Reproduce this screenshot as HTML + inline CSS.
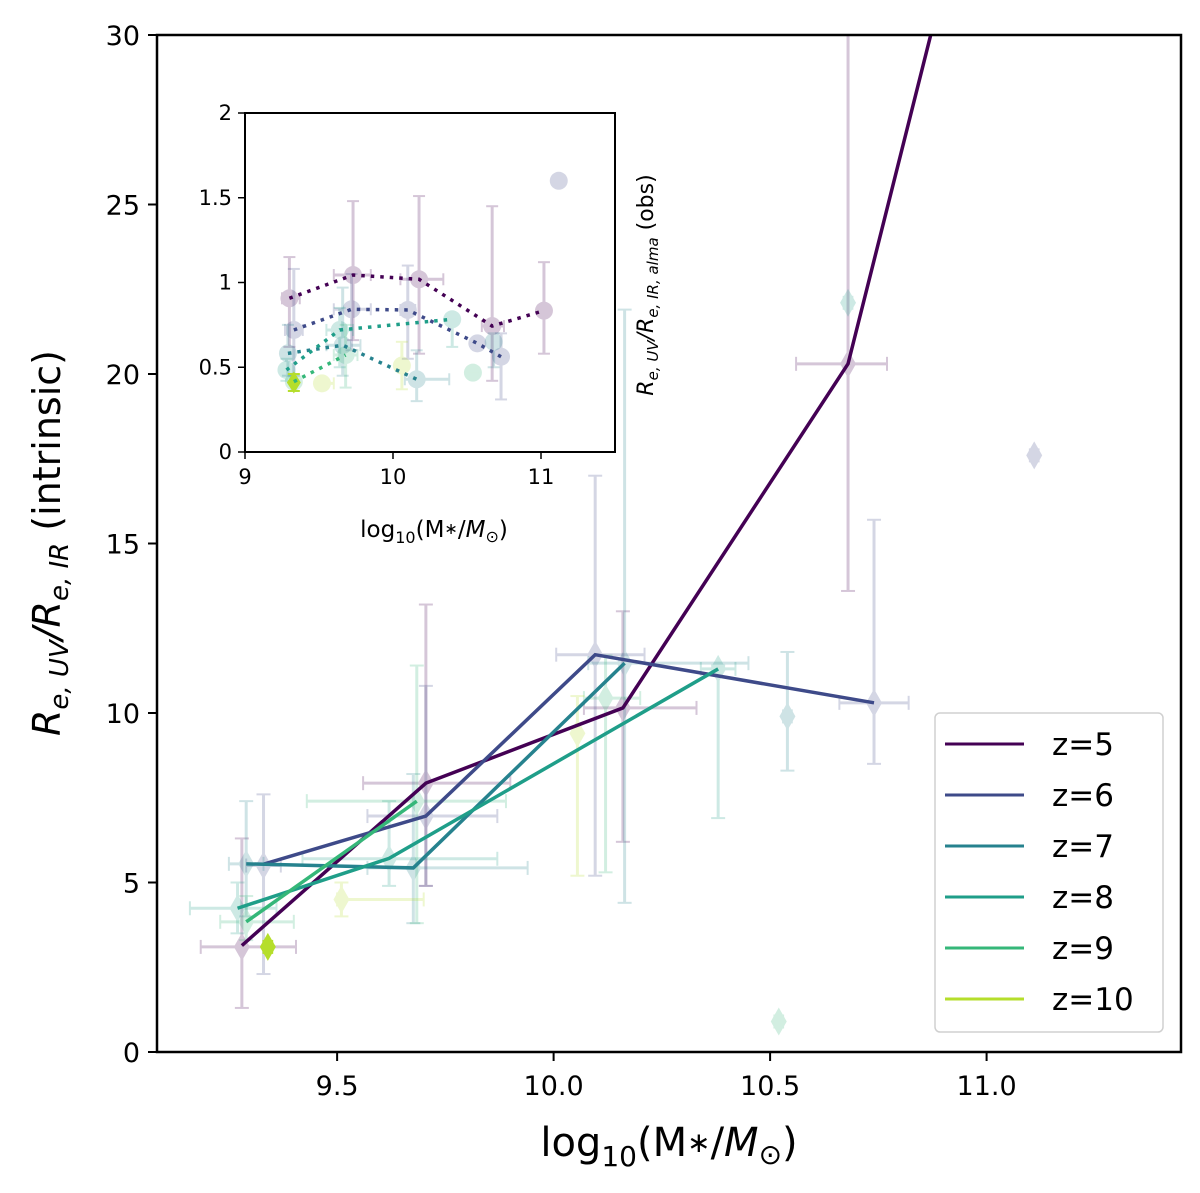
<!DOCTYPE html>
<html><head><meta charset="utf-8">
<style>
html,body{margin:0;padding:0;background:#fff;}
svg{display:block;font-family:"DejaVu Sans","Liberation Sans",sans-serif;}
</style></head>
<body>
<svg id="chart" width="1200" height="1193" viewBox="0 0 1200 1193" xmlns="http://www.w3.org/2000/svg"></svg>
<script>
// ---- data ----
const seriesNames = ["z=5","z=6","z=7","z=8","z=9","z=10"];
const seriesColors = ["#440154","#3e4a89","#26828e","#1f9e89","#35b779","#b5de2b"];
// main lines (log mass, ratio)
const lineZ5 = [[9.28,3.14],[9.705,7.93],[10.16,10.15],[10.68,20.3],[10.93,33.0]];
const lineZ6 = [[9.33,5.54],[9.705,6.96],[10.096,11.72],[10.74,10.3]];
const lineZ7 = [[9.29,5.55],[9.676,5.43],[10.164,11.47]];
const lineZ8 = [[9.27,4.24],[9.62,5.71],[10.38,11.3]];
const lineZ9 = [[9.29,3.84],[9.684,7.4]];
const lineZ10 = [];
// error-bar points: [series, x, y, xlo, xhi, ylo, yhi]
const mainPoints = [
 [0,9.28,3.1,9.185,9.405,1.3,6.3],[0,9.705,7.93,9.56,9.90,4.9,13.2],[0,10.16,10.15,10.07,10.33,6.2,13.0],[0,10.68,20.3,10.56,10.77,13.6,31],
 [1,9.33,5.5,9.29,9.37,2.3,7.6],[1,9.705,6.96,9.57,9.87,4.9,10.8],[1,10.096,11.72,10.006,10.21,5.2,17],[1,10.74,10.3,10.66,10.82,8.5,15.7],[1,11.11,17.6,11.1,11.12,17.6,17.6],
 [2,9.29,5.55,9.25,9.33,4.0,7.4],[2,9.676,5.43,9.57,9.94,3.8,8.2],[2,10.164,11.47,10.08,10.45,4.4,21.9],[2,10.54,9.9,10.53,10.55,8.3,11.8],
 [3,9.27,4.24,9.16,9.36,3.5,5.0],[3,9.62,5.7,9.42,9.87,4.9,7.4],[3,10.38,11.3,10.34,10.42,6.9,11.4],[3,10.68,22.1,10.67,10.69,22.1,22.1],
 [4,9.29,3.84,9.23,9.40,3.3,4.6],[4,9.684,7.4,9.43,9.89,3.8,11.4],[4,10.12,10.44,10.07,10.2,5.3,11.7],[4,10.52,0.9,10.51,10.53,0.9,0.9],
 [5,9.34,3.1,9.33,9.35,3.1,3.1],[5,9.51,4.5,9.50,9.70,4.0,5.0],[5,10.055,9.4,10.05,10.06,5.2,10.5]
];
// inset dotted lines
const insetZ5 = [[9.30,0.907],[9.73,1.044],[10.176,1.019],[10.67,0.743],[11.02,0.834]];
const insetZ6 = [[9.33,0.72],[9.72,0.842],[10.10,0.838],[10.57,0.641],[10.73,0.562]];
const insetZ7 = [[9.29,0.582],[9.66,0.63],[10.16,0.429]];
const insetZ8 = [[9.28,0.484],[9.64,0.72],[10.40,0.783]];
const insetZ9 = [[9.33,0.415],[9.68,0.572]];
// inset points: [series,x,y,xlo,xhi,ylo,yhi]
const insetPoints = [
 [0,9.30,0.907,9.25,9.37,0.62,1.15],[0,9.73,1.044,9.6,9.85,0.66,1.48],[0,10.176,1.019,10.05,10.34,0.58,1.51],[0,10.67,0.743,10.6,10.75,0.42,1.45],[0,11.02,0.834,11.0,11.04,0.58,1.12],
 [1,9.33,0.72,9.27,9.39,0.45,1.08],[1,9.72,0.842,9.6,9.85,0.6,1.05],[1,10.10,0.838,10.05,10.15,0.55,1.1],[1,10.57,0.641,10.55,10.6,0.64,0.64],[1,10.73,0.562,10.7,10.76,0.31,0.7],[1,11.12,1.6,11.1,11.14,1.6,1.6],
 [2,9.29,0.582,9.27,9.31,0.45,0.75],[2,9.66,0.63,9.55,9.78,0.45,0.97],[2,10.16,0.429,10.08,10.38,0.3,0.6],[2,10.68,0.65,10.65,10.7,0.5,0.7],
 [3,9.28,0.484,9.25,9.31,0.42,0.55],[3,9.64,0.72,9.55,9.73,0.5,0.85],[3,10.40,0.783,10.38,10.42,0.62,0.8],
 [4,9.33,0.415,9.3,9.36,0.38,0.45],[4,9.68,0.572,9.6,9.76,0.38,0.75],[4,10.54,0.468,10.52,10.56,0.47,0.47],
 [5,9.33,0.41,9.32,9.34,0.36,0.46],[5,9.52,0.405,9.48,9.6,0.38,0.43],[5,10.06,0.51,10.05,10.07,0.37,0.65]
];
const mainXTicks = [9.5,10.0,10.5,11.0];
const mainYTicks = [0,5,10,15,20,25,30];
const insetXTicks = [9,10,11];
const insetYTicks = [0,0.5,1,1.5,2];
const insetYTickLabels = ["0","0.5","1","1.5","2"];

// ---- axes ----
const M = {l:157,r:1181,t:35,b:1052,x0:9.084,x1:11.449,y0:0,y1:30};
const I = {l:245,r:615,t:113,b:452,x0:9,x1:11.5,y0:0,y1:2};
function sx(a,v){return a.l+(v-a.x0)/(a.x1-a.x0)*(a.r-a.l);}
function sy(a,v){return a.b-(v-a.y0)/(a.y1-a.y0)*(a.b-a.t);}
const NS="http://www.w3.org/2000/svg";
const svg=document.getElementById('chart');
function el(tag,attrs,parent,text){const e=document.createElementNS(NS,tag);for(const k in attrs)e.setAttribute(k,attrs[k]);if(text!==undefined)e.textContent=text;(parent||svg).appendChild(e);return e;}

const defs=el('defs',{});
const cp=el('clipPath',{id:'mclip'},defs);el('rect',{x:M.l,y:M.t,width:M.r-M.l,height:M.b-M.t},cp);
const cp2=el('clipPath',{id:'iclip'},defs);el('rect',{x:I.l,y:I.t,width:I.r-I.l,height:I.b-I.t},cp2);

const mainPlot=el('g',{'clip-path':'url(#mclip)'});



function drawPoint(a,g,p,r,cap,alpha){
  const c=seriesColors[p[0]];
  const grp=el('g',{opacity:alpha},g);
  
  
  const X=sx(a,p[1]),Y=sy(a,p[2]);
  const x0=sx(a,p[3]),x1=sx(a,p[4]),y0=sy(a,p[5]),y1=sy(a,p[6]);
  el('line',{x1:x0,y1:Y,x2:x1,y2:Y,stroke:c,'stroke-width':3},grp);
  el('line',{x1:X,y1:y0,x2:X,y2:y1,stroke:c,'stroke-width':3},grp);
  [[x0,Y,0],[x1,Y,0],[X,y0,1],[X,y1,1]].forEach(q=>{
    if(q[2]===0)el('line',{x1:q[0],y1:q[1]-cap,x2:q[0],y2:q[1]+cap,stroke:c,'stroke-width':2},grp);
    else el('line',{x1:q[0]-cap,y1:q[1],x2:q[0]+cap,y2:q[1],stroke:c,'stroke-width':2},grp);
  });
  return [grp,X,Y,c];
}
mainPoints.forEach(p=>{
  const isSolid=(p[0]===5&&p[1]<9.4);
  const [g,X,Y,c]=drawPoint(M,mainPlot,p,0,7,isSolid?1:0.22);
  el('path',{d:`M${X} ${Y-14}L${X+8} ${Y}L${X} ${Y+14}L${X-8} ${Y}Z`,fill:c},g);
});
const lines=[lineZ5,lineZ6,lineZ7,lineZ8,lineZ9,lineZ10];
lines.forEach((L,i)=>{
  if(L.length<2)return;
  const pl=el('polyline',{points:L.map(p=>sx(M,p[0])+','+sy(M,p[1])).join(' '),fill:'none',stroke:seriesColors[i],'stroke-width':3.5,'stroke-linejoin':'miter'},mainPlot);
  
  
});

const frame=el('rect',{x:M.l,y:M.t,width:M.r-M.l,height:M.b-M.t,fill:'none',stroke:'#000','stroke-width':2.5});


mainXTicks.forEach(t=>{
  const X=sx(M,t);
  el('line',{x1:X,y1:M.b,x2:X,y2:M.b+9,stroke:'#000','stroke-width':2});
  const tx=el('text',{x:X,y:M.b+43,'text-anchor':'middle','font-size':27},svg,t.toFixed(1));
  
  
});
mainYTicks.forEach(t=>{
  const Y=sy(M,t);
  el('line',{x1:M.l,y1:Y,x2:M.l-9,y2:Y,stroke:'#000','stroke-width':2});
  const tx=el('text',{x:M.l-17,y:Y+10,'text-anchor':'end','font-size':27},svg,String(t));
  
  
});

(function(){
const xl=el('text',{x:669,y:1156,'text-anchor':'middle','font-size':40});
xl.innerHTML='log<tspan font-size="28" dy="10">10</tspan><tspan dy="-10">(M</tspan><tspan font-size="28" dy="-4">∗</tspan><tspan dy="4">/</tspan><tspan font-style="italic">M</tspan><tspan font-size="28" dy="8">⊙</tspan><tspan dy="-8">)</tspan>';


const yl=el('text',{x:0,y:0,'text-anchor':'middle','font-size':38,transform:'translate(60,543) rotate(-90)'});
yl.innerHTML='<tspan font-style="italic">R</tspan><tspan font-size="26" font-style="italic" dy="8">e, UV</tspan><tspan dy="-8" font-style="italic">/R</tspan><tspan font-size="26" font-style="italic" dy="8">e, IR</tspan><tspan dy="-8"> (intrinsic)</tspan>';



const ig=el('g',{});


el('rect',{x:I.l,y:I.t,width:I.r-I.l,height:I.b-I.t,fill:'#fff'},ig);
const ip=el('g',{'clip-path':'url(#iclip)'},ig);
insetPoints.forEach(p=>{
  const solid=(p[0]===5&&p[1]<9.4);
  const [g,X,Y,c]=drawPoint(I,ip,p,0,6,solid?1:0.22);
  if(solid){el('path',{d:`M${X} ${Y-11}L${X+7} ${Y}L${X} ${Y+11}L${X-7} ${Y}Z`,fill:c},g);}
  else{el('circle',{cx:X,cy:Y,r:9,fill:c},g);
  el('line',{x1:X-6,y1:Y,x2:X+6,y2:Y,stroke:c,'stroke-width':1},g);}
});
[insetZ5,insetZ6,insetZ7,insetZ8,insetZ9].forEach((L,i)=>{
  const pl=el('polyline',{points:L.map(p=>sx(I,p[0])+','+sy(I,p[1])).join(' '),fill:'none',stroke:seriesColors[i],'stroke-width':3.5,'stroke-dasharray':'3.5 6'},ip);
  
  
});
el('rect',{x:I.l,y:I.t,width:I.r-I.l,height:I.b-I.t,fill:'none',stroke:'#000','stroke-width':2},ig);
insetXTicks.forEach(t=>{const X=sx(I,t);el('line',{x1:X,y1:I.b,x2:X,y2:I.b+7,stroke:'#000','stroke-width':1.5},ig);
  const tx=el('text',{x:X,y:I.b+32,'text-anchor':'middle','font-size':21},ig,String(t));
  
  });
insetYTicks.forEach((t,i)=>{const Y=sy(I,t);el('line',{x1:I.l,y1:Y,x2:I.l-7,y2:Y,stroke:'#000','stroke-width':1.5},ig);
  const tx=el('text',{x:I.l-13,y:Y+7,'text-anchor':'end','font-size':21},ig,insetYTickLabels[i]);
  
  });
const ixl=el('text',{x:434,y:537,'text-anchor':'middle','font-size':23},ig);
ixl.innerHTML='log<tspan font-size="16" dy="6">10</tspan><tspan dy="-6">(M</tspan><tspan font-size="16" dy="-3">∗</tspan><tspan dy="3">/</tspan><tspan font-style="italic">M</tspan><tspan font-size="16" dy="5">⊙</tspan><tspan dy="-5">)</tspan>';


const iyl=el('text',{x:0,y:0,'text-anchor':'middle','font-size':22,transform:'translate(653,285) rotate(-90)'},ig);
iyl.innerHTML='<tspan font-style="italic">R</tspan><tspan font-size="15" font-style="italic" dy="5">e, UV</tspan><tspan dy="-5" font-style="italic">/R</tspan><tspan font-size="15" font-style="italic" dy="5">e, IR, alma</tspan><tspan dy="-5"> (obs)</tspan>';



const lg=el('g',{});


el('rect',{x:935,y:713,width:228,height:319,rx:5,fill:'#fff','fill-opacity':0.85,stroke:'#d0d0d0','stroke-width':1.5},lg);
seriesNames.forEach((n,i)=>{
  const Y=744+i*51;
  const e=el('g',{},lg);
  
  
  el('line',{x1:945,y1:Y,x2:1024,y2:Y,stroke:seriesColors[i],'stroke-width':3},e);
  el('text',{x:1052,y:Y+11,'font-size':31},e,n);
});
})();
</script>
</body></html>
